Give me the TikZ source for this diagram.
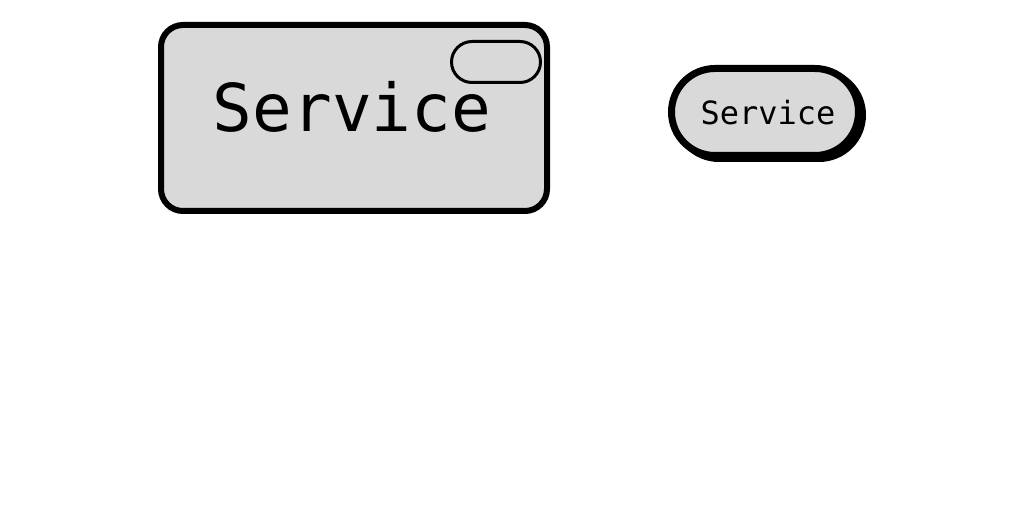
\documentclass[tikz,border=0pt]{standalone}
\usepackage{fontspec}
\newfontfamily\monofont{DejaVu Sans Mono}
\usetikzlibrary{shapes.misc}
\definecolor{svcgray}{HTML}{D9D9D9}
\tikzset{
  svcpill/.style={rounded rectangle, draw=black, fill=svcgray, inner sep=0pt},
  svctext/.style={font=\monofont, text=black, inner sep=0pt}
}
\begin{document}
\begin{tikzpicture}[x=1pt, y=1pt]
    \useasboundingbox[fill=white] (0,0) rectangle (1024,512);

    % Large service box with badge
    \node[rectangle, draw=black, fill=svcgray, line width=6pt, rounded corners=22pt, minimum width=386pt, minimum height=186pt] (svcbox) at (354,394) {};
    \node[svctext, font=\monofont\fontsize{66}{70}\selectfont] (svclabel) at (352,405) {Service};
    \node[svcpill, line width=3pt, minimum width=89pt, minimum height=41pt] (svcbadge) at (496,450) {};

    % Small service pill with shadow
    \node[svcpill, fill=black, draw=black, line width=7pt, minimum width=187pt, minimum height=87pt] (pillshadow) at (769,397) {};
    \node[svcpill, line width=7pt, minimum width=187pt, minimum height=87pt] (svcpill) at (765,400) {};
    \node[svctext, font=\monofont\fontsize{32}{36}\selectfont] (pilllabel) at (768,399) {Service};
\end{tikzpicture}
\end{document}
